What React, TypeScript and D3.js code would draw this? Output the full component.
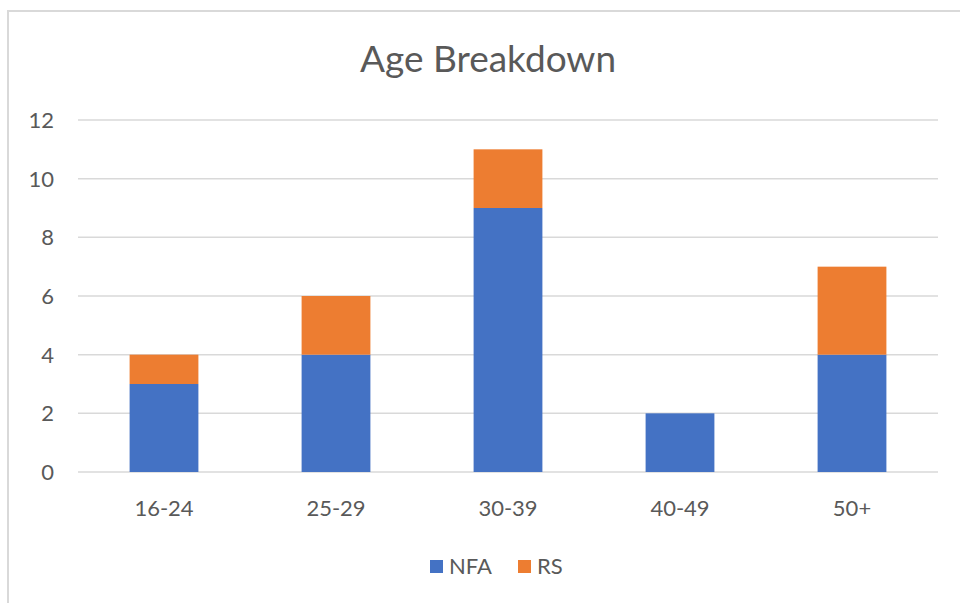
import React, { useEffect, useRef } from "react";
import * as d3 from "d3";

const categories = ["16-24", "25-29", "30-39", "40-49", "50+"];
const nfaValues = [3, 4, 9, 2, 4];
const rsValues = [1, 2, 2, 0, 3];
const seriesNames = ["NFA", "RS"];
const seriesColors = ["#4472C4", "#ED7D31"];
const yTicks = [0, 2, 4, 6, 8, 10, 12];

const App = () => {
  const svgRef = useRef<SVGSVGElement>(null);

  useEffect(() => {
    const width = 960;
    const height = 603;
    const font = "Lato, 'Open Sans', sans-serif";
    const textColor = "#595959";
    const tickSize = 22;

    const svg = d3.select(svgRef.current);
    svg.selectAll("*").remove();
    svg.attr("width", width).attr("height", height);

    svg.append("rect").attr("width", width).attr("height", height).attr("fill", "#fff");

    // chart area border (runs off right/bottom in the reference)
    svg
      .append("rect")
      .attr("x", 8)
      .attr("y", 11)
      .attr("width", width + 10)
      .attr("height", height + 10)
      .attr("fill", "none")
      .attr("stroke", "#d9d9d9")
      .attr("stroke-width", 2);

    svg
      .append("text")
      .attr("x", 488)
      .attr("y", 72)
      .attr("text-anchor", "middle")
      .attr("font-family", font)
      .attr("font-size", 37)
      .attr("fill", textColor)
      .text("Age Breakdown");

    const x = d3.scaleBand().domain(categories).range([78, 938]).paddingInner(0.6).paddingOuter(0.3);
    const y = d3.scaleLinear().domain([0, 12]).range([472, 120]);

    const grid = svg.append("g");
    grid
      .selectAll("line")
      .data(yTicks)
      .enter()
      .append("line")
      .attr("x1", 78)
      .attr("x2", 938)
      .attr("y1", (d) => y(d))
      .attr("y2", (d) => y(d))
      .attr("stroke", "#d9d9d9")
      .attr("stroke-width", 1.5);

    grid
      .selectAll("text")
      .data(yTicks)
      .enter()
      .append("text")
      .attr("x", 54)
      .attr("y", (d) => y(d) + 8)
      .attr("text-anchor", "end")
      .attr("font-family", font)
      .attr("font-size", tickSize)
      .attr("fill", textColor)
      .text((d) => d);

    const rows = categories.map((c, i) => ({ cat: c, NFA: nfaValues[i], RS: rsValues[i] }));
    const stack = d3.stack<any>().keys(seriesNames)(rows);

    stack.forEach((layer, li) => {
      svg
        .append("g")
        .selectAll("rect")
        .data(layer.filter((d) => d[1] - d[0] > 0))
        .enter()
        .append("rect")
        .attr("x", (d) => x(d.data.cat)!)
        .attr("width", x.bandwidth())
        .attr("y", (d) => y(d[1]))
        .attr("height", (d) => y(d[0]) - y(d[1]))
        .attr("fill", seriesColors[li]);
    });

    svg
      .append("g")
      .selectAll("text")
      .data(categories)
      .enter()
      .append("text")
      .attr("x", (d) => x(d)! + x.bandwidth() / 2)
      .attr("y", 516)
      .attr("text-anchor", "middle")
      .attr("font-family", font)
      .attr("font-size", tickSize)
      .attr("fill", textColor)
      .text((d) => d);

    // legend
    const legendX = [430, 518];
    const legend = svg
      .append("g")
      .selectAll("g")
      .data(seriesNames)
      .enter()
      .append("g")
      .attr("transform", (d, i) => `translate(${legendX[i]}, 560)`);
    legend
      .append("rect")
      .attr("width", 13)
      .attr("height", 13)
      .attr("fill", (d, i) => seriesColors[i]);
    legend
      .append("text")
      .attr("x", 19)
      .attr("y", 14)
      .attr("font-family", font)
      .attr("font-size", tickSize)
      .attr("fill", textColor)
      .text((d) => d);
  }, []);

  return <svg ref={svgRef} style={{ position: "absolute", left: 0, top: 0 }}></svg>;
};

export default App;
